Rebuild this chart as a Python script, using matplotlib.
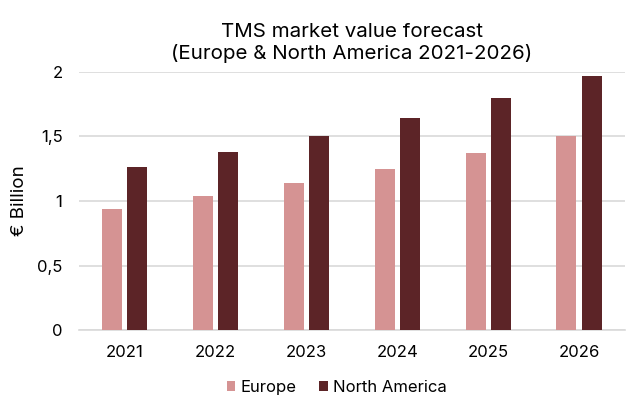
import numpy as np
import matplotlib.pyplot as plt

years = ["2021", "2022", "2023", "2024", "2025", "2026"]
europe = [0.94, 1.04, 1.14, 1.25, 1.37, 1.50]
north_america = [1.26, 1.38, 1.50, 1.64, 1.80, 1.97]
yticks = [0, 0.5, 1, 1.5, 2]
ytick_labels = ["0", "0,5", "1", "1,5", "2"]

plt.rcParams['font.family'] = ['Inter', 'DejaVu Sans']

fig, ax = plt.subplots(figsize=(6.44, 4.04), dpi=100)
fig.subplots_adjust(left=0.123, right=0.97, top=0.822, bottom=0.183)

x = np.arange(len(years))
w = 0.22
ax.bar(x - 0.14, europe, w, color='#D59393', label='Europe', zorder=3)
ax.bar(x + 0.14, north_america, w, color='#5C2427', label='North America', zorder=3)

ax.set_xlim(-0.5, len(years) - 0.5)
ax.set_ylim(0, 2)
ax.set_yticks(yticks)
ax.set_yticklabels(ytick_labels)
ax.set_xticks(x)
ax.set_xticklabels(years)
ax.tick_params(axis='both', length=0, labelsize=12, colors='#000000')
ax.tick_params(axis='y', pad=12)
ax.tick_params(axis='x', pad=11)
ax.yaxis.grid(True, color='#D9D9D9', linewidth=1.2, zorder=0)
for s in ['top', 'right', 'left']:
    ax.spines[s].set_visible(False)
ax.spines['bottom'].set_color('#D9D9D9')
ax.spines['bottom'].set_linewidth(1.2)

ax.set_ylabel('€ Billion', fontsize=13.5)
ax.yaxis.set_label_coords(-0.093, 0.5)
ax.set_title('TMS market value forecast\n(Europe & North America 2021-2026)', fontsize=14.8, pad=9)

ax.legend(loc='center', bbox_to_anchor=(0.472, -0.222), ncol=2, frameon=False,
          fontsize=12, handlelength=0.5, handleheight=0.5, handletextpad=0.3, columnspacing=1.4)

plt.savefig('out.png')
